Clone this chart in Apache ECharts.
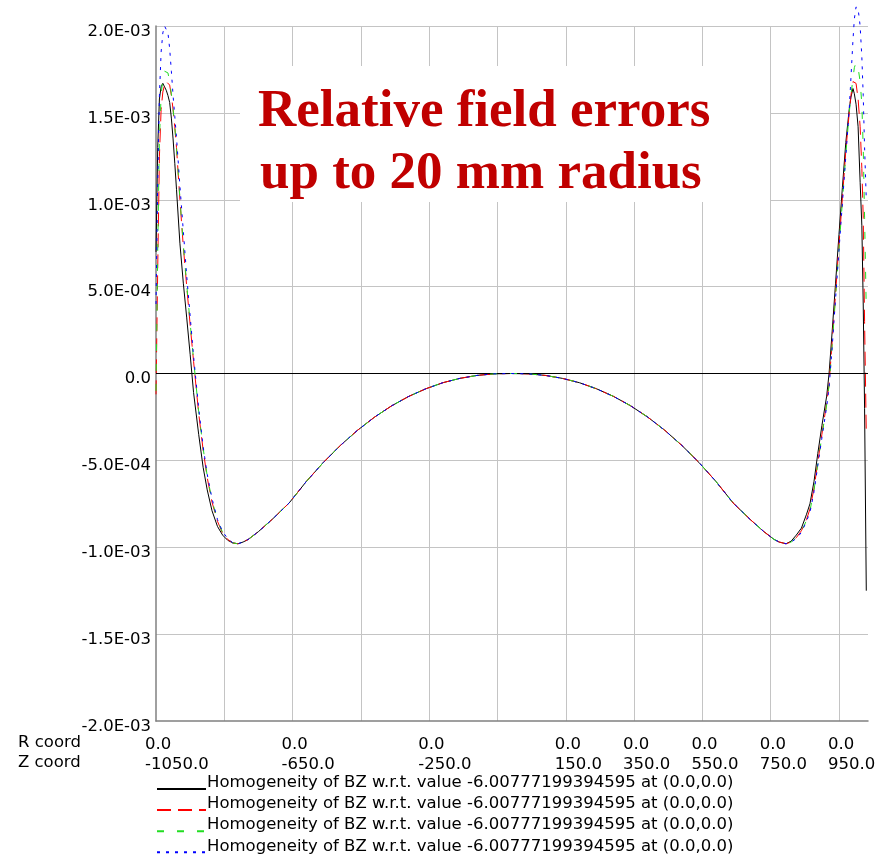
<!DOCTYPE html>
<html>
<head>
<meta charset="utf-8">
<script src="https://cdn.jsdelivr.net/npm/echarts@6/dist/echarts.min.js"></script>
<style>
html,body{margin:0;padding:0;background:#fff;}
#chart{width:881px;height:856px;}
</style>
</head>
<body>
<div id="chart"></div>
<script>
// Z coordinate of each sample (mm)
const zCoord = [-1050, -1045, -1040, -1035, -1030, -1025, -1020, -1015, -1010, -1005, -1000, -995, -990, -980, -970, -960, -950, -940, -925, -912, -900, -886, -870, -855, -840, -825, -810, -795, -780, -750, -710, -660, -610, -560, -510, -460, -410, -360, -310, -260, -210, -160, -110, -60, -10, 40, 90, 140, 190, 240, 290, 340, 390, 440, 490, 540, 590, 640, 690, 730, 760, 775, 795, 810, 825, 840, 855, 865, 877, 888, 900, 914, 921, 930, 940, 950, 960, 970, 980, 985, 991, 995, 1000, 1006, 1012, 1017, 1021, 1025, 1030];

const homBlack = [7.0e-4, 1.30e-3, 1.58e-3, 1.65e-3, 1.67e-3, 1.66e-3, 1.63e-3, 1.60e-3, 1.56e-3, 1.47e-3, 1.35e-3, 1.21e-3, 1.06e-3, 7.5e-4, 5.2e-4, 3.2e-4, 1.1e-4, -1.1e-4, -3.5e-4, -5.4e-4, -6.7e-4, -7.9e-4, -8.8e-4, -9.3e-4, -9.6e-4, -9.75e-4, -9.8e-4,
  -9.7e-4, -9.55e-4, -9.1e-4, -8.4e-4, -7.45e-4, -6.22e-4, -5.12e-4, -4.14e-4, -3.27e-4, -2.51e-4, -1.86e-4, -1.32e-4, -8.8e-5, -5.3e-5, -2.8e-5, -1.1e-5, -2e-6, 0, -2e-6, -1.1e-5, -2.8e-5, -5.3e-5, -8.8e-5, -1.32e-4, -1.86e-4, -2.51e-4, -3.27e-4, -4.14e-4, -5.12e-4, -6.22e-4, -7.45e-4, -8.4e-4, -9.1e-4, -9.55e-4, -9.7e-4,
  -9.8e-4, -9.65e-4, -9.3e-4, -8.9e-4, -8.1e-4, -7.5e-4, -6.2e-4, -4.6e-4, -3.0e-4, -1.3e-4, 0, 2.4e-4, 5.2e-4, 8.0e-4, 1.07e-3, 1.33e-3, 1.52e-3, 1.59e-3, 1.64e-3, 1.61e-3, 1.55e-3, 1.42e-3, 1.10e-3, 8.5e-4, 4.0e-4, -2.0e-4, -1.25e-3];

const homRed = [-1.2e-4, 6.0e-4, 1.25e-3, 1.52e-3, 1.62e-3, 1.66e-3, 1.68e-3, 1.68e-3, 1.66e-3, 1.60e-3, 1.52e-3, 1.42e-3, 1.30e-3, 1.00e-3, 7.3e-4, 5.0e-4, 2.8e-4, 7e-5, -2.3e-4, -4.4e-4, -6.0e-4, -7.4e-4, -8.5e-4, -9.2e-4, -9.55e-4, -9.75e-4, -9.8e-4,
  -9.7e-4, -9.55e-4, -9.1e-4, -8.4e-4, -7.45e-4, -6.22e-4, -5.12e-4, -4.14e-4, -3.27e-4, -2.51e-4, -1.86e-4, -1.32e-4, -8.8e-5, -5.3e-5, -2.8e-5, -1.1e-5, -2e-6, 0, -2e-6, -1.1e-5, -2.8e-5, -5.3e-5, -8.8e-5, -1.32e-4, -1.86e-4, -2.51e-4, -3.27e-4, -4.14e-4, -5.12e-4, -6.22e-4, -7.45e-4, -8.4e-4, -9.1e-4, -9.55e-4, -9.7e-4,
  -9.8e-4, -9.7e-4, -9.45e-4, -9.05e-4, -8.4e-4, -7.8e-4, -6.6e-4, -5.1e-4, -3.5e-4, -1.7e-4, -6e-5, 1.8e-4, 4.6e-4, 7.4e-4, 1.01e-3, 1.28e-3, 1.50e-3, 1.60e-3, 1.68e-3, 1.69e-3, 1.67e-3, 1.58e-3, 1.42e-3, 1.18e-3, 9.0e-4, 3.0e-4, -3.5e-4];

const homGreen = [-1.0e-4, 7.0e-4, 1.35e-3, 1.60e-3, 1.70e-3, 1.74e-3, 1.75e-3, 1.73e-3, 1.68e-3, 1.61e-3, 1.52e-3, 1.42e-3, 1.30e-3, 1.01e-3, 7.4e-4, 5.1e-4, 2.9e-4, 8e-5, -2.2e-4, -4.3e-4, -5.9e-4, -7.3e-4, -8.45e-4, -9.15e-4, -9.5e-4, -9.75e-4, -9.8e-4,
  -9.7e-4, -9.55e-4, -9.1e-4, -8.4e-4, -7.45e-4, -6.22e-4, -5.12e-4, -4.14e-4, -3.27e-4, -2.51e-4, -1.86e-4, -1.32e-4, -8.8e-5, -5.3e-5, -2.8e-5, -1.1e-5, -2e-6, 0, -2e-6, -1.1e-5, -2.8e-5, -5.3e-5, -8.8e-5, -1.32e-4, -1.86e-4, -2.51e-4, -3.27e-4, -4.14e-4, -5.12e-4, -6.22e-4, -7.45e-4, -8.4e-4, -9.1e-4, -9.55e-4, -9.7e-4,
  -9.8e-4, -9.7e-4, -9.45e-4, -9.1e-4, -8.45e-4, -7.9e-4, -6.7e-4, -5.2e-4, -3.6e-4, -1.8e-4, -7e-5, 1.6e-4, 4.4e-4, 7.2e-4, 9.9e-4, 1.26e-3, 1.50e-3, 1.60e-3, 1.70e-3, 1.76e-3, 1.79e-3, 1.76e-3, 1.68e-3, 1.55e-3, 1.30e-3, 9.0e-4, 3.6e-4];

const homBlue = [4.0e-4, 1.1e-3, 1.6e-3, 1.85e-3, 1.96e-3, 2.0e-3, 2.0e-3, 1.96e-3, 1.87e-3, 1.74e-3, 1.6e-3, 1.48e-3, 1.36e-3, 1.08e-3, 8.2e-4, 5.6e-4, 3.3e-4, 1.0e-4, -2.0e-4, -4.2e-4, -5.8e-4, -7.2e-4, -8.4e-4, -9.1e-4, -9.5e-4, -9.75e-4, -9.8e-4,
  -9.7e-4, -9.55e-4, -9.1e-4, -8.4e-4, -7.45e-4, -6.22e-4, -5.12e-4, -4.14e-4, -3.27e-4, -2.51e-4, -1.86e-4, -1.32e-4, -8.8e-5, -5.3e-5, -2.8e-5, -1.1e-5, -2e-6, 0, -2e-6, -1.1e-5, -2.8e-5, -5.3e-5, -8.8e-5, -1.32e-4, -1.86e-4, -2.51e-4, -3.27e-4, -4.14e-4, -5.12e-4, -6.22e-4, -7.45e-4, -8.4e-4, -9.1e-4, -9.55e-4, -9.7e-4,
  -9.8e-4, -9.7e-4, -9.5e-4, -9.15e-4, -8.5e-4, -8.0e-4, -6.8e-4, -5.3e-4, -3.7e-4, -1.9e-4, -8e-5, 1.5e-4, 4.3e-4, 7.1e-4, 9.8e-4, 1.25e-3, 1.52e-3, 1.70e-3, 1.92e-3, 2.04e-3, 2.11e-3, 2.10e-3, 2.00e-3, 1.82e-3, 1.60e-3, 1.30e-3, 1.0e-3];

// Labelled ticks on the X axis (two rows: R coord and Z coord)
const labelledZ = [-1050, -650, -250, 150, 350, 550, 750, 950];
const rTickLabels = ['0.0', '0.0', '0.0', '0.0', '0.0', '0.0', '0.0', '0.0'];
const zTickLabels = ['-1050.0', '-650.0', '-250.0', '150.0', '350.0', '550.0', '750.0', '950.0'];

const legendText = 'Homogeneity of BZ w.r.t. value -6.00777199394595 at (0.0,0.0)';
const seriesIds = ['h1', 'h2', 'h3', 'h4'];
const seriesColors = ['#000000', '#ff0000', '#22dd22', '#0000ff'];
const seriesDash = ['solid', [14, 7], [7, 13], [3, 6]];
const seriesValues = [homBlack, homRed, homGreen, homBlue];

const titleLines = ['Relative field errors', 'up to 20 mm radius'];
const rowNames = ['R coord', 'Z coord'];

const FONT = 'DejaVu Sans';
const FS = 16.5;

function fmtY(v) {
  if (Math.abs(v) < 1e-12) return '0.0';
  const s = v.toExponential(1);
  const parts = s.split('e');
  const exp = parseInt(parts[1], 10);
  const sign = exp < 0 ? '-' : '+';
  const a = Math.abs(exp);
  return parts[0] + 'E' + sign + (a < 10 ? '0' + a : String(a));
}

const series = seriesValues.map((vals, k) => {
  const s = {
    type: 'line',
    name: seriesIds[k],
    data: zCoord.map((z, i) => [z, vals[i]]),
    showSymbol: false,
    symbol: 'none',
    clip: false,
    smooth: false,
    lineStyle: { color: seriesColors[k], width: 1, type: seriesDash[k] },
    itemStyle: { color: seriesColors[k] },
    z: 3 + k,
    silent: true
  };
  if (k === 0) {
    s.markLine = {
      silent: true,
      symbol: ['none', 'none'],
      label: { show: false },
      lineStyle: { color: '#000000', width: 1, type: 'solid' },
      data: [{ yAxis: 0 }],
      animation: false
    };
  }
  return s;
});

const chart = echarts.init(document.getElementById('chart'), null, { renderer: 'canvas' });
chart.setOption({
  animation: false,
  backgroundColor: '#ffffff',
  grid: { left: 156, right: 13, top: 26, bottom: 135, containLabel: false },
  xAxis: {
    type: 'value',
    min: -1050,
    max: 1035,
    interval: 200,
    axisLine: { show: true, onZero: false, lineStyle: { color: '#808080', width: 1.5 } },
    axisTick: { show: false },
    splitLine: { show: true, showMinLine: false, showMaxLine: false, lineStyle: { color: '#c4c4c4', width: 1 } },
    axisLabel: {
      show: true,
      margin: 14,
      align: 'left',
      padding: [0, 0, 0, -11],
      lineHeight: 20,
      fontFamily: FONT,
      fontSize: FS,
      color: '#000000',
      showMaxLabel: false,
      hideOverlap: false,
      formatter: function (v) {
        const i = labelledZ.indexOf(Math.round(v));
        if (i < 0) return '';
        return rTickLabels[i] + '\n' + zTickLabels[i];
      }
    }
  },
  yAxis: {
    type: 'value',
    min: -0.002,
    max: 0.002,
    interval: 0.0005,
    axisLine: { show: true, onZero: false, lineStyle: { color: '#808080', width: 1.5 } },
    axisTick: { show: false },
    splitLine: { show: true, showMinLine: false, lineStyle: { color: '#c4c4c4', width: 1 } },
    axisLabel: {
      margin: 5,
      verticalAlign: 'top',
      lineHeight: 11,
      fontFamily: FONT,
      fontSize: FS,
      color: '#000000',
      formatter: fmtY
    }
  },
  legend: {
    show: true,
    orient: 'vertical',
    left: 156,
    top: 774.5,
    height: 300,
    padding: 0,
    itemWidth: 49,
    itemHeight: 12,
    itemGap: -7.9,
    selectedMode: false,
    data: seriesIds,
    itemStyle: { opacity: 0 },
    formatter: function () { return '{t|' + legendText + '}'; },
    textStyle: {
      fontFamily: FONT,
      fontSize: FS,
      color: '#000000',
      rich: {
        t: {
          fontFamily: FONT,
          fontSize: FS,
          color: '#000000',
          lineHeight: 12,
          padding: [0, 0, 12, -4]
        }
      }
    }
  },
  graphic: [
    { type: 'text', left: 18, top: 734, style: { text: rowNames[0], font: FS + 'px "' + FONT + '"', fill: '#000' } },
    { type: 'text', left: 18, top: 754, style: { text: rowNames[1], font: FS + 'px "' + FONT + '"', fill: '#000' } },
    { type: 'rect', shape: { x: 240, y: 66, width: 530, height: 136 }, style: { fill: '#ffffff' }, z: 1 },
    { type: 'text', x: 258, y: 112, z: 2, style: { text: titleLines[0], font: 'bold 53px "Liberation Serif"', fill: '#c00000', verticalAlign: 'middle', align: 'left' } },
    { type: 'text', x: 260, y: 174, z: 2, style: { text: titleLines[1], font: 'bold 53px "Liberation Serif"', fill: '#c00000', verticalAlign: 'middle', align: 'left' } }
  ],
  series: series
});
</script>
</body>
</html>
